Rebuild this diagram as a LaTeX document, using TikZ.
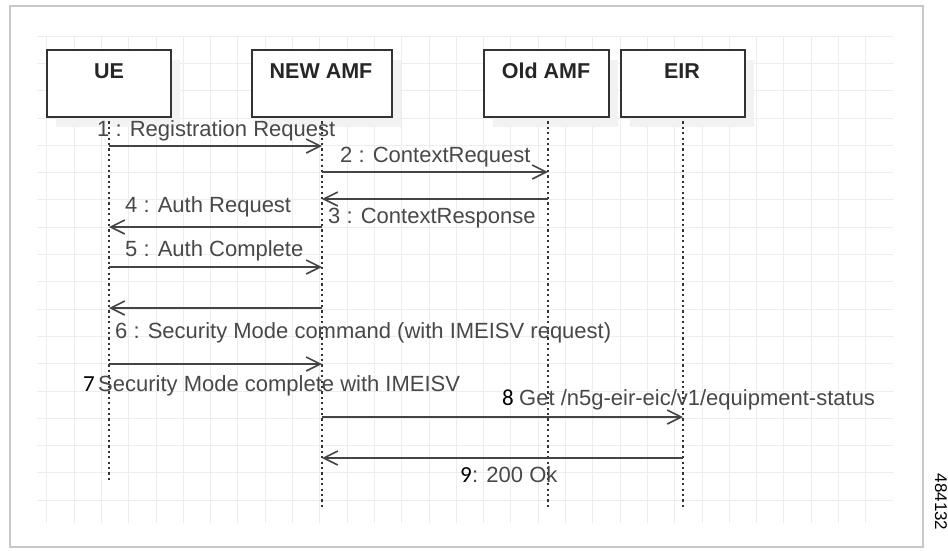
\documentclass[tikz,border=0pt]{standalone}
\usepackage{fontspec}
\setmainfont{Liberation Sans}
\newfontfamily\numfont{Carlito}
\usetikzlibrary{arrows.meta}
\definecolor{boxline}{HTML}{333333}
\definecolor{msgline}{HTML}{444444}
\definecolor{labelgray}{HTML}{484848}
\definecolor{gridgray}{HTML}{EDEDED}
\definecolor{shadowgray}{HTML}{F2F2F2}
\definecolor{framegray}{HTML}{C8C8C8}
\tikzset{
  actor/.style={draw=boxline, line width=1.8pt, fill=white, minimum width=#1, minimum height=67pt, inner sep=0pt, anchor=north west},
  actorname/.style={font=\fontsize{21.5}{24}\selectfont\bfseries, text=black!85, anchor=base},
  lifeline/.style={draw=boxline, line width=1.7pt, dash pattern=on 2.2pt off 3.2pt},
  msg/.style={draw=msgline, line width=1.8pt, -{Straight Barb[length=14pt,width=14pt,line width=1.6pt]}},
  lbl/.style={font=\fontsize{22}{24}\selectfont, text=labelgray, anchor=base west, inner sep=0pt},
  blk/.style={font=\numfont\fontsize{23}{25}\selectfont, text=black, anchor=base west, inner sep=0pt},
}
\begin{document}
\begin{tikzpicture}[x=1pt,y=-1pt]
\useasboundingbox (0,0) rectangle (948,550);
% frame
\draw[framegray, line width=2pt] (10,6) rectangle (923,547);
% grid
\begin{scope}
\clip (37,36) rectangle (893,523);
\foreach \i in {0,...,31} \draw[gridgray, line width=0.8pt] ({46.7+27.3*\i},36) -- ({46.7+27.3*\i},523);
\foreach \j in {0,...,17} \draw[gridgray, line width=0.8pt] (37,{36+27.3*\j}) -- (893,{36+27.3*\j});
\end{scope}
% shadows
\foreach \a/\b in {46/170,251/391,483/608,620/744}
  \fill[shadowgray] (\a+10,60) rectangle (\b+10,127);
% actors
\node[actor=124pt] (ue) at (46,49) {};
\node[actor=140pt] (newamf) at (251,49) {};
\node[actor=125pt] (oldamf) at (483,49) {};
\node[actor=124pt] (eir) at (620,49) {};
\node[actorname] (uet) at (109,78) {UE};
\node[actorname] (newt) at (321,78) {NEW AMF};
\node[actorname] (oldt) at (546,78) {Old AMF};
\node[actorname] (eirt) at (682,78) {EIR};
% lifeline ends
\coordinate (ueTop) at (109,116);
\coordinate (ueBot) at (109,480);
\coordinate (naTop) at (322,116);
\coordinate (naBot) at (322,508);
\coordinate (oaTop) at (548,116);
\coordinate (oaBot) at (548,510);
\coordinate (eiTop) at (683,116);
\coordinate (eiBot) at (683,510);
\draw[lifeline] (ueTop) -- (ueBot);
\draw[lifeline] (naTop) -- (naBot);
\draw[lifeline] (oaTop) -- (oaBot);
\draw[lifeline] (eiTop) -- (eiBot);
% message end points
\coordinate (u1) at (109,146); \coordinate (n1) at (322,146);
\coordinate (n2) at (322,172); \coordinate (o2) at (548,172);
\coordinate (o3) at (548,199); \coordinate (n3) at (322,199);
\coordinate (n4) at (322,227); \coordinate (u4) at (109,227);
\coordinate (u5) at (109,267); \coordinate (n5) at (322,267);
\coordinate (n6) at (322,308); \coordinate (u6) at (109,308);
\coordinate (u7) at (109,364); \coordinate (n7) at (322,364);
\coordinate (n8) at (322,417); \coordinate (e8) at (683,417);
\coordinate (e9) at (683,458); \coordinate (n9) at (322,458);
% messages
\draw[msg] (u1) -- (n1);
\draw[msg] (n2) -- (o2);
\draw[msg] (o3) -- (n3);
\draw[msg] (n4) -- (u4);
\draw[msg] (u5) -- (n5);
\draw[msg] (n6) -- (u6);
\draw[msg] (u7) -- (n7);
\draw[msg] (n8) -- (e8);
\draw[msg] (e9) -- (n9);
% labels
\node[lbl] (l1) at (97,136) {1 : Registration Request};
\node[lbl] (l2) at (340,162) {2 : ContextRequest};
\node[lbl] (l3) at (328,223) {3 : ContextResponse};
\node[lbl] (l4) at (125,212) {4 : Auth Request};
\node[lbl] (l5) at (125,256) {5 : Auth Complete};
\node[lbl] (l6) at (115,338) {6 : Security Mode command (with IMEISV request)};
\node[blk] (l7n) at (83,391) {7};
\node[lbl] (l7) at (98,391) {Security Mode complete with IMEISV};
\node[blk] (l8n) at (502,405) {8};
\node[lbl] (l8) at (519,405) {Get /n5g-eir-eic/v1/equipment-status};
\node[blk] (l9n) at (460,482) {9};
\node[lbl] (l9) at (472,482) {: 200 Ok};
% figure number
\node[font=\fontsize{17}{19}\selectfont, text=black, rotate=-90] (fig) at (941,502) {484132};
\end{tikzpicture}
\end{document}
